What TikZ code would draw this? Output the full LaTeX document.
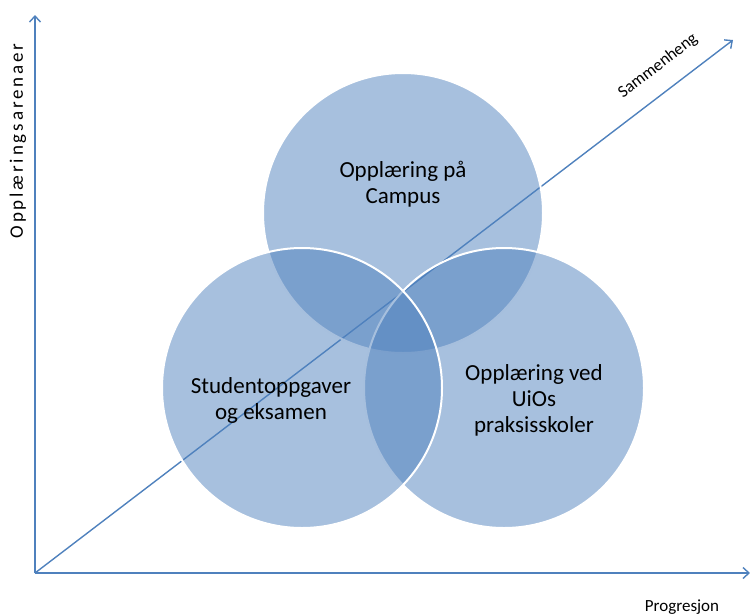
\documentclass[tikz,border=0pt]{standalone}
\usepackage{fontspec}
\setmainfont{Carlito}
\usetikzlibrary{arrows.meta}
\definecolor{officeblue}{HTML}{4F81BD}

\begin{document}
\begin{tikzpicture}[x=1pt,y=-1pt]
\tikzstyle{axisline} = [draw=officeblue, line width=1.4pt, -{Straight Barb[length=6pt,width=11pt]}]
\tikzstyle{venn} = [circle, minimum size=280pt, inner sep=0pt, fill=officeblue, fill opacity=0.5, draw=white, draw opacity=1, line width=2pt]
\tikzstyle{venntext} = [align=center, font=\fontsize{23}{26}\selectfont, text=black]
\tikzstyle{axistext} = [font=\fontsize{17}{20}\selectfont, inner sep=0pt, text=black]

\useasboundingbox (0,0) rectangle (750,614);

\coordinate (Origin) at (35,573);
\coordinate (ArenaEnd) at (35,15);
\coordinate (ProgEnd) at (750,573);
\coordinate (SammenEnd) at (733,40);

% axes
\draw[axisline] (Origin) -- (ArenaEnd);
\draw[axisline] (Origin) -- (ProgEnd);
\draw[axisline] (Origin) -- (SammenEnd);

% circles
\node (Campus) [venn] at (403,213) {};
\node (Praksis) [venn] at (504,388) {};
\node (Studentoppgaver) [venn] at (302,388) {};

\node (CampusText) [venntext] at (403,184) {Opplæring på\\Campus};
\node (StudentText) [venntext] at (271,400) {Studentoppgaver\\og eksamen};
\node (PraksisText) [venntext] at (534,400) {Opplæring ved\\UiOs\\praksisskoler};

\node (ArenaLabel) [axistext, rotate=90, font=\fontsize{19}{22}\selectfont] at (18,141) {\addfontfeature{LetterSpace=15}Opplæringsarenaer};
\node (SammenLabel) [axistext, rotate=37.5] at (658,66) {Sammenheng};
\node (ProgLabel) [axistext, anchor=base] at (682,611) {Progresjon};

\end{tikzpicture}
\end{document}
